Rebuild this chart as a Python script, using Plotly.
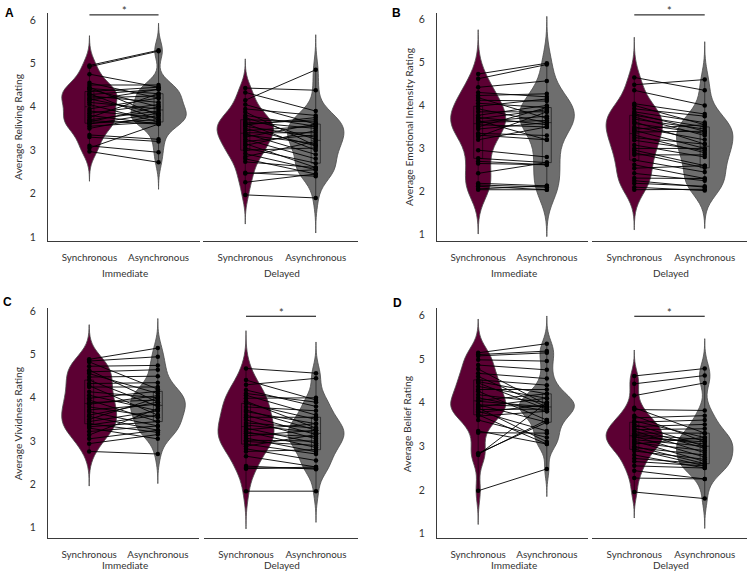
import numpy as np
import plotly.graph_objects as go

# ---------------- data (paired ratings) ----------------
conditions = ["Synchronous", "Asynchronous"]
groups = ["Immediate", "Delayed"]

# Panel A - Reliving
sync_imm_A = [4.95,4.92,4.75,4.55,4.50,4.45,4.42,4.40,4.35,4.30,4.28,4.25,4.20,4.18,4.15,4.10,4.05,3.95,3.90,3.85,3.80,3.75,3.70,3.68,3.65,3.62,3.60,3.55,3.50,3.35,3.30,3.10,3.05,2.97]
async_imm_A = [5.30,5.28,4.45,4.20,4.50,3.80,4.30,4.00,4.45,3.70,4.40,4.10,4.25,3.85,4.40,3.95,3.65,4.20,3.75,4.05,3.60,4.30,3.90,3.60,4.00,3.70,3.85,3.65,3.80,3.25,3.20,2.95,3.60,2.72]
sync_del_A = [4.43,4.33,4.15,4.05,3.95,3.88,3.80,3.75,3.70,3.65,3.62,3.58,3.55,3.50,3.45,3.40,3.38,3.35,3.30,3.25,3.20,3.15,3.11,3.05,3.00,2.92,2.85,2.80,2.73,2.48,2.46,2.26,1.97,3.60]
async_del_A = [4.38,3.90,4.85,3.60,3.80,3.10,3.55,3.25,3.65,3.50,3.00,3.75,3.30,3.10,3.55,3.40,2.90,3.15,3.60,2.80,3.35,2.60,3.45,2.70,3.05,2.55,3.20,2.45,2.60,2.40,2.55,2.45,1.90,3.70]

# Panel B - Emotional intensity
sync_imm_B = [4.73,4.62,4.42,4.30,4.23,4.18,4.12,4.05,3.98,3.92,3.85,3.77,3.72,3.69,3.65,3.62,3.60,3.55,3.50,3.45,3.35,3.31,3.27,3.20,2.96,2.77,2.70,2.65,2.42,2.19,2.15,2.12,2.06,2.04]
async_imm_B = [4.98,4.95,4.57,4.20,4.27,3.70,4.10,3.95,4.15,3.60,3.85,4.00,3.55,3.90,3.20,3.75,3.65,3.50,3.95,3.60,3.30,3.20,3.85,3.50,2.80,2.67,2.62,2.62,2.67,2.13,2.10,2.04,2.13,2.04]
sync_del_B = [4.65,4.48,4.35,4.04,4.00,3.92,3.85,3.81,3.77,3.73,3.68,3.62,3.58,3.50,3.45,3.42,3.38,3.31,3.25,3.19,3.08,3.00,2.96,2.90,2.85,2.73,2.62,2.54,2.42,2.31,2.25,2.19,2.10,2.04]
async_del_B = [4.35,4.60,4.00,3.80,3.55,3.75,3.60,3.40,3.50,3.30,3.45,3.10,3.35,3.20,3.55,3.00,3.40,2.90,3.10,2.95,2.80,3.00,2.60,2.55,2.85,2.45,2.30,2.60,2.25,2.30,2.10,2.12,2.02,2.05]

# Panel C - Vividness
sync_imm_C = [4.89,4.85,4.83,4.73,4.64,4.60,4.56,4.48,4.41,4.33,4.28,4.25,4.14,4.06,3.99,3.95,3.89,3.85,3.79,3.72,3.68,3.60,3.57,3.50,3.45,3.40,3.37,3.33,3.30,3.22,3.14,3.05,2.94,2.76]
async_imm_C = [5.15,4.95,4.20,4.75,3.90,4.65,4.10,4.50,3.80,4.35,3.60,4.25,4.00,3.70,4.15,3.45,3.95,4.05,3.55,3.85,3.35,3.90,3.25,4.00,3.70,3.20,3.60,3.45,3.05,3.35,3.75,3.25,3.15,2.70]
sync_del_C = [4.68,4.41,4.30,4.18,4.10,4.06,3.99,3.92,3.87,3.79,3.72,3.68,3.60,3.55,3.49,3.42,3.37,3.30,3.26,3.22,3.18,3.12,3.07,3.02,2.99,2.93,2.88,2.82,2.76,2.65,2.42,2.38,2.36,1.84]
async_del_C = [4.57,3.95,4.45,3.80,3.90,3.60,4.00,3.30,3.50,3.70,3.25,3.40,3.15,3.55,3.05,3.30,3.20,2.95,3.40,2.85,3.10,3.25,2.75,3.00,2.90,2.70,3.15,2.55,2.80,2.40,2.35,2.37,2.40,1.84]

# Panel D - Belief
sync_imm_D = [5.14,5.10,5.07,4.98,4.86,4.77,4.67,4.60,4.52,4.48,4.45,4.37,4.30,4.26,4.18,4.11,4.05,4.03,3.95,3.90,3.88,3.84,3.80,3.77,3.72,3.69,3.60,3.35,3.31,2.84,2.82,2.80,1.98,3.95]
async_imm_D = [5.35,5.18,5.14,4.95,4.75,3.95,4.55,3.90,4.40,4.20,3.85,4.10,4.30,3.60,4.00,3.80,4.20,3.90,3.55,4.10,3.10,3.85,3.35,3.95,3.05,3.80,3.20,3.05,3.30,3.55,3.60,4.00,2.48,3.90]
sync_del_D = [4.61,4.43,4.16,3.88,3.84,3.70,3.65,3.58,3.55,3.50,3.45,3.42,3.38,3.35,3.30,3.27,3.23,3.20,3.15,3.12,3.08,3.05,3.00,2.97,2.93,2.89,2.80,2.72,2.65,2.55,2.44,2.27,1.95,3.25]
async_del_D = [4.78,4.62,4.45,3.30,3.82,3.10,3.70,3.20,3.60,3.00,3.50,2.95,3.40,2.85,3.30,3.15,2.75,3.10,3.00,2.65,2.90,3.20,2.60,2.80,2.55,2.70,2.50,2.60,2.55,2.50,2.25,2.25,1.80,3.05]

y_tick_vals = [1, 2, 3, 4, 5, 6]

# ---------------- layout helpers ----------------
W, H = 748, 575
def px_x(p): return p / W
def px_y(p): return 1 - p / H

FONT = "Lato, 'Open Sans', Arial, sans-serif"
TXT = "#333333"
AXC = "#3a3a3a"
SYNC_COL = "#5c0033"
ASYNC_COL = "#6e6e6e"

panels = [
    dict(letter="A", ytitle="Average Reliving Rating",
         data=[(sync_imm_A, async_imm_A), (sync_del_A, async_del_A)],
         xs=[(48, 200), (203, 358)], ys=(10, 240), yr=[0.91, 6.16],
         sig=0, sig_y=12, letter_xy=(9, 10), ytitle_x=18, grp_y=272),
    dict(letter="B", ytitle="Average Emotional Intensity Rating",
         data=[(sync_imm_B, async_imm_B), (sync_del_B, async_del_B)],
         xs=[(437, 588), (592, 747)], ys=(10, 240), yr=[0.85, 6.15],
         sig=1, sig_y=12, letter_xy=(396, 10), ytitle_x=409, grp_y=272),
    dict(letter="C", ytitle="Average Vividness Rating",
         data=[(sync_imm_C, async_imm_C), (sync_del_C, async_del_C)],
         xs=[(48, 199), (204, 358)], ys=(308, 540), yr=[0.75, 6.07],
         sig=1, sig_y=316, letter_xy=(8, 302), ytitle_x=18, grp_y=567),
    dict(letter="D", ytitle="Average Belief Rating",
         data=[(sync_imm_D, async_imm_D), (sync_del_D, async_del_D)],
         xs=[(437, 588), (592, 747)], ys=(308, 540), yr=[0.89, 6.16],
         sig=1, sig_y=316, letter_xy=(397, 303), ytitle_x=407, grp_y=567),
]

def nrd0(v):
    v = np.asarray(v, float)
    sd = v.std(ddof=1)
    iqr = np.subtract(*np.percentile(v, [75, 25]))
    lo = min(sd, iqr / 1.34) if iqr > 0 else sd
    return 0.9 * lo * len(v) ** (-0.2)

fig = go.Figure()
layout = dict(width=W, height=H, margin=dict(l=0, r=0, t=0, b=0),
              paper_bgcolor="white", plot_bgcolor="white",
              showlegend=False, violinmode="overlay", boxmode="overlay",
              font=dict(family=FONT, color=TXT))
annotations = []
shapes = []

for p_i, p in enumerate(panels):
    for f in range(2):
        idx = p_i * 2 + f + 1
        xa = "x" if idx == 1 else f"x{idx}"
        ya = "y" if idx == 1 else f"y{idx}"
        xkey = "xaxis" if idx == 1 else f"xaxis{idx}"
        ykey = "yaxis" if idx == 1 else f"yaxis{idx}"
        x0, x1 = p["xs"][f]
        layout[xkey] = dict(domain=[px_x(x0), min(px_x(x1), 1)], anchor=ya, range=[-0.6, 1.6],
                            tickvals=[0, 1], ticktext=conditions, showgrid=False,
                            zeroline=False, showline=True, linecolor=AXC, linewidth=1,
                            ticks="", ticklabelstandoff=7,
                            tickfont=dict(size=9.8, color=TXT, family=FONT))
        layout[ykey] = dict(domain=[px_y(p["ys"][1]), px_y(p["ys"][0])], anchor=xa,
                            range=p["yr"], tickvals=y_tick_vals, showgrid=False,
                            zeroline=False, showline=(f == 0), linecolor=AXC, linewidth=1,
                            showticklabels=(f == 0), ticks="", ticklabelstandoff=9,
                            tickfont=dict(size=10.5, color=TXT, family=FONT))
        s_vals, a_vals = p["data"][f]
        for pos, vals, col in [(0, s_vals, SYNC_COL), (1, a_vals, ASYNC_COL)]:
            bw = nrd0(vals)
            fig.add_trace(go.Violin(
                x=[pos] * len(vals), y=vals, xaxis=xa, yaxis=ya,
                width=0.8, fillcolor=col, line=dict(color="#4a4a4a", width=0.8),
                opacity=1, points=False, box_visible=False, meanline_visible=False,
                bandwidth=bw, spanmode="manual",
                span=[min(vals) - 3 * bw, max(vals) + 3 * bw],
                scalemode="width", hoverinfo="skip"))
        for pos, vals in [(0, s_vals), (1, a_vals)]:
            fig.add_trace(go.Box(
                x=[pos] * len(vals), y=vals, xaxis=xa, yaxis=ya, width=0.13,
                fillcolor="rgba(0,0,0,0)", line=dict(color="rgba(0,0,0,0.55)", width=1),
                boxpoints=False, whiskerwidth=0, quartilemethod="linear", hoverinfo="skip"))
        lx, ly = [], []
        for s, a in zip(s_vals, a_vals):
            lx += [0, 1, None]
            ly += [s, a, None]
        fig.add_trace(go.Scatter(
            x=lx, y=ly, xaxis=xa, yaxis=ya, mode="lines+markers",
            line=dict(color="rgba(0,0,0,0.9)", width=1),
            marker=dict(color="black", size=4.5), hoverinfo="skip"))
        # group label
        annotations.append(dict(text=groups[f], x=px_x((x0 + x1) / 2 + 1), y=px_y(p["grp_y"]),
                                xref="paper", yref="paper", showarrow=False,
                                font=dict(size=10, color=TXT, family=FONT),
                                xanchor="center", yanchor="middle"))
        if f == p["sig"]:
            shapes.append(dict(type="line", xref=xa, yref="paper", x0=0, x1=1,
                               y0=px_y(p["sig_y"]), y1=px_y(p["sig_y"]),
                               line=dict(color="black", width=1)))
            annotations.append(dict(text="*", x=0.5, xref=xa, y=px_y(p["sig_y"] - 4),
                                    yref="paper", showarrow=False, xanchor="center",
                                    yanchor="middle", font=dict(size=11, color=TXT, family=FONT)))
    # panel letter
    lx_, ly_ = p["letter_xy"]
    annotations.append(dict(text=f"<b>{p['letter']}</b>", x=px_x(lx_), y=px_y(ly_),
                            xref="paper", yref="paper", showarrow=False,
                            xanchor="center", yanchor="middle",
                            font=dict(size=12, color="black", family="Arial, sans-serif")))
    # y title
    annotations.append(dict(text=p["ytitle"], x=px_x(p["ytitle_x"]),
                            y=px_y((p["ys"][0] + p["ys"][1]) / 2), xref="paper", yref="paper",
                            showarrow=False, textangle=-90, xanchor="center", yanchor="middle",
                            font=dict(size=10.3, color=TXT, family=FONT)))

layout["annotations"] = annotations
layout["shapes"] = shapes
fig.update_layout(**layout)
fig.write_html("out.html", config={"displayModeBar": False},
               post_script="document.body.style.margin='0px';")
